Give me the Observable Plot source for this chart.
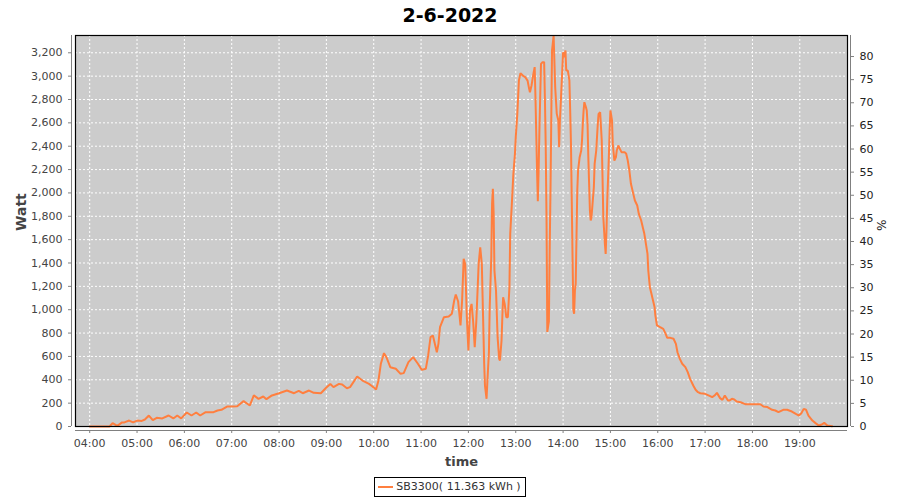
<!DOCTYPE html>
<html>
<head>
<meta charset="utf-8">
<script src="https://cdn.jsdelivr.net/npm/d3@7"></script>
<script src="https://cdn.jsdelivr.net/npm/@observablehq/plot@0.6"></script>
<style>
  html, body { margin: 0; padding: 0; background: #fff; }
  body { width: 900px; height: 500px; overflow: hidden; font-family: "DejaVu Sans", sans-serif; }
  #title { height: 30px; line-height: 30px; text-align: center; font-weight: bold; font-size: 19px; color: #000; }
  #chart svg { display: block; }
  #legend { text-align: center; margin-top: 7px; line-height: 0; }
  #legend .box { display: inline-flex; align-items: center; border: 1px solid #000; height: 20px; line-height: 20px; padding: 0 4px 0 3px; font-size: 11px; color: #333; box-sizing: border-box; }
  #legend .sw { display: inline-block; width: 15px; height: 2px; background: #ff7f3f; margin-right: 3px; }
</style>
</head>
<body>
<div id="title">2-6-2022</div>
<div id="chart"></div>
<div id="legend"><span class="box"><span class="sw"></span>SB3300( 11.363 kWh )</span></div>
<script>
const seriesName = "SB3300( 11.363 kWh )";
const times = ["04:00","04:25","04:29","04:35","04:41","04:44","04:50","04:55","05:00","05:06","05:10","05:15","05:20","05:25","05:32","05:40","05:46","05:51","05:56","06:03","06:09","06:15","06:20","06:27","06:37","06:42","06:47","06:54","07:00","07:07","07:15","07:23","07:28","07:34","07:40","07:44","07:51","08:00","08:10","08:19","08:25","08:30","08:38","08:44","08:53","09:00","09:05","09:09","09:16","09:20","09:26","09:30","09:39","09:47","09:54","09:58","10:03","10:06","10:09","10:13","10:16","10:21","10:28","10:34","10:38","10:44","10:50","10:56","11:01","11:06","11:09","11:12","11:15","11:18","11:20","11:22","11:24","11:29","11:35","11:39","11:42","11:44","11:47","11:50","11:52","11:54","11:56","11:58","12:00","12:02","12:04","12:06","12:08","12:10","12:13","12:15","12:17","12:18","12:20","12:21","12:23","12:24","12:26","12:27","12:29","12:30","12:31","12:32","12:33","12:35","12:37","12:39","12:40","12:42","12:43","12:44","12:46","12:48","12:50","12:52","12:53","12:55","12:57","12:59","13:00","13:02","13:03","13:04","13:06","13:09","13:12","13:15","13:17","13:18","13:20","13:22","13:24","13:25","13:27","13:28","13:29","13:30","13:32","13:34","13:36","13:37","13:38","13:39","13:40","13:42","13:43","13:44","13:46","13:48","13:50","13:52","13:54","13:55","13:56","13:58","14:00","14:02","14:03","14:04","14:06","14:08","14:09","14:10","14:11","14:12","14:13","14:14","14:15","14:16","14:17","14:18","14:19","14:21","14:23","14:24","14:25","14:26","14:27","14:29","14:30","14:31","14:32","14:33","14:34","14:35","14:36","14:37","14:39","14:40","14:42","14:44","14:45","14:47","14:49","14:50","14:51","14:53","14:54","14:55","14:56","14:58","14:59","15:00","15:02","15:03","15:05","15:07","15:08","15:10","15:12","15:14","15:18","15:20","15:22","15:24","15:26","15:29","15:31","15:34","15:36","15:39","15:41","15:43","15:45","15:47","15:48","15:50","15:52","15:54","15:56","15:57","15:59","16:03","16:07","16:10","16:12","16:16","16:20","16:23","16:25","16:28","16:31","16:35","16:38","16:41","16:45","16:48","16:51","16:54","17:00","17:05","17:09","17:12","17:15","17:19","17:22","17:25","17:29","17:31","17:34","17:37","17:40","17:45","17:51","18:10","18:14","18:19","18:25","18:29","18:33","18:39","18:44","18:50","18:55","18:59","19:02","19:05","19:08","19:11","19:16","19:20","19:24","19:28","19:31","19:35","19:41"];
const watts = [0,0,28,5,35,35,51,35,51,48,60,94,54,74,69,94,69,94,69,120,94,120,94,123,123,137,143,171,171,174,217,180,266,237,257,234,266,285,308,285,305,285,308,288,285,334,364,337,365,360,328,337,428,388,365,345,317,394,537,628,594,508,494,451,457,551,594,537,485,494,608,765,779,694,636,708,850,936,942,965,1079,1130,1070,865,1079,1436,1390,936,651,993,1050,900,680,900,1393,1535,1393,1107,537,351,237,380,636,1022,1450,1906,2035,1821,1336,1164,765,579,565,736,936,1107,1050,936,936,1193,1650,1900,2163,2335,2477,2677,2820,2962,3025,3005,2991,2962,2891,2862,2920,3005,3077,2820,2192,1930,2192,2534,3105,3120,3120,2800,2400,1800,810,900,1500,2000,3220,3345,2906,2677,2620,2392,2620,2906,3205,3162,3220,3048,3048,2963,2706,2420,1935,1450,1000,965,1164,1221,1621,2021,2192,2306,2363,2449,2591,2706,2777,2734,2706,2591,2306,2078,1850,1764,1792,1878,2049,2249,2363,2591,2677,2691,2449,2135,1792,1564,1478,1678,1935,2306,2534,2706,2620,2420,2277,2306,2363,2406,2377,2349,2349,2335,2277,2192,2078,1992,1935,1892,1821,1764,1707,1650,1564,1478,1336,1193,1136,1079,1022,950,865,850,836,793,759,759,751,708,636,579,537,508,465,408,351,314,294,285,280,265,251,265,288,243,228,265,223,223,237,231,214,208,191,191,171,166,143,137,123,143,143,128,108,94,114,151,143,94,51,29,9,17,31,9,3];
const hourTicks = ["04:00","05:00","06:00","07:00","08:00","09:00","10:00","11:00","12:00","13:00","14:00","15:00","16:00","17:00","18:00","19:00"];
const wattTicks = [0,200,400,600,800,1000,1200,1400,1600,1800,2000,2200,2400,2600,2800,3000,3200];
const pctTicks = [0,5,10,15,20,25,30,35,40,45,50,55,60,65,70,75,80];
const xStart = "03:42", xEnd = "20:00";
const wattMax = 3348;
const wattPerPct = 39.6;

const toDate = s => { const [h, m] = s.split(":").map(Number); return new Date(Date.UTC(2022, 5, 2, h, m)); };
const data = times.map((t, i) => ({time: toDate(t), watt: watts[i]}));
const xTickDates = hourTicks.map(toDate);
const xDom = [toDate(xStart), new Date(toDate(xEnd).getTime() + 30000)];

const lineColor = "#ff7f3f";
const axisGray = "#808080";

const chart = Plot.plot({
  width: 900,
  height: 440,
  marginTop: 5,
  marginBottom: 44,
  marginLeft: 75,
  marginRight: 53,
  style: {fontFamily: "DejaVu Sans, sans-serif", fontSize: "11px", background: "white", overflow: "visible"},
  x: {type: "utc", domain: xDom, label: null},
  y: {domain: [0, wattMax], label: null},
  marks: [
    Plot.frame({fill: "#cccccc", stroke: null}),
    Plot.gridX(xTickDates, {stroke: "white", strokeOpacity: 1, strokeDasharray: "2,2"}),
    Plot.gridY(wattTicks, {stroke: "white", strokeOpacity: 1, strokeDasharray: "2,2"}),
    Plot.line(data, {x: "time", y: "watt", stroke: lineColor, strokeWidth: 2, strokeLinejoin: "miter"}),
    Plot.frame({stroke: "black", strokeWidth: 1.2}),
    Plot.ruleX([xDom[0]], {dx: -4, stroke: axisGray}),
    Plot.ruleX([xDom[1]], {dx: 3, stroke: axisGray}),
    Plot.ruleY([0], {dy: 4, stroke: axisGray}),
    Plot.axisY(wattTicks, {anchor: "left", tickSize: 3, dx: -4, stroke: axisGray, fill: "#444", tickFormat: d3.format(","), label: null}),
    Plot.axisY(pctTicks.map(p => p * wattPerPct), {anchor: "right", tickSize: 3, dx: 3, stroke: axisGray, fill: "#222", tickFormat: d => String(Math.round(d / wattPerPct)), label: null}),
    Plot.axisX(xTickDates, {anchor: "bottom", tickSize: 3, dy: 4, stroke: axisGray, fill: "#444", tickFormat: d3.utcFormat("%H:%M"), label: null}),
    Plot.text(["Watt"], {frameAnchor: "left", dx: -54, rotate: -90, fontWeight: "bold", fontSize: 14, fill: "#444"}),
    Plot.text(["time"], {frameAnchor: "bottom", dy: 35, lineAnchor: "middle", fontWeight: "bold", fontSize: 13, fill: "#444"}),
    Plot.text(["%"], {frameAnchor: "right", dx: 33, rotate: 90, fontSize: 12, fill: "#222"})
  ]
});
document.getElementById("chart").appendChild(chart);
</script>
</body>
</html>
